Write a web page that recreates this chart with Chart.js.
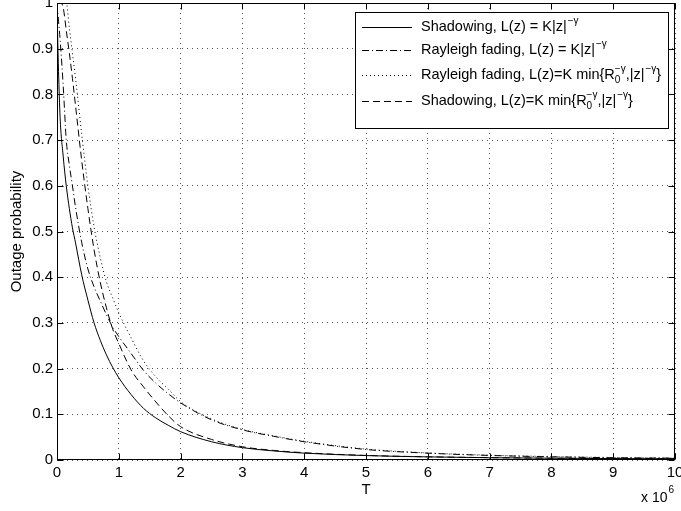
<!DOCTYPE html>
<html>
<head>
<meta charset="utf-8">
<script src="https://cdn.jsdelivr.net/npm/chart.js@4"></script>
<style>
  html, body { margin: 0; padding: 0; background: #fff; }
</style>
</head>
<body>
<canvas id="chart" width="681" height="511"></canvas>
<script>
// T values (x 10^6)
const tValues = [0, 0.01, 0.025, 0.05, 0.1, 0.15, 0.2, 0.25, 0.3, 0.4, 0.5, 0.6, 0.7, 0.8, 0.9, 1,
    1.2, 1.4, 1.6, 1.8, 2, 2.5, 3, 3.5, 4, 5, 6, 7, 8, 9, 10];

// Shadowing, L(z) = K|z|^-γ  (solid)
const shadowPower = [1, 0.93, 0.85, 0.75, 0.665, 0.6, 0.55, 0.508, 0.475, 0.405, 0.35, 0.3, 0.262, 0.23, 0.203, 0.18,
    0.143, 0.113, 0.092, 0.076, 0.062, 0.04, 0.027, 0.02, 0.015, 0.0097, 0.0068, 0.005, 0.0039, 0.0031, 0.0025];

// Rayleigh fading, L(z) = K|z|^-γ  (dash-dot)
const rayleighPower = [1, 0.985, 0.96, 0.92, 0.82, 0.7, 0.645, 0.6, 0.553, 0.476, 0.418, 0.379, 0.348, 0.318, 0.291, 0.27,
    0.233, 0.196, 0.168, 0.145, 0.125, 0.088, 0.066, 0.052, 0.04, 0.023, 0.015, 0.01, 0.007, 0.005, 0.004];

// Rayleigh fading, L(z)=K min{R0^-γ,|z|^-γ}  (dotted)
const rayleighMin = [1, 1, 1, 1, 1, 1, 0.945, 0.89, 0.835, 0.713, 0.6, 0.51, 0.443, 0.39, 0.355, 0.322,
    0.267, 0.217, 0.182, 0.155, 0.128, 0.09, 0.067, 0.053, 0.041, 0.024, 0.0155, 0.0105, 0.0075, 0.0055, 0.0042];

// Shadowing, L(z)=K min{R0^-γ,|z|^-γ}  (dashed)
const shadowMin = [1, 1, 1, 1, 0.99, 0.94, 0.89, 0.835, 0.775, 0.655, 0.55, 0.46, 0.389, 0.333, 0.287, 0.255,
    0.197, 0.16, 0.127, 0.097, 0.073, 0.045, 0.029, 0.021, 0.016, 0.01, 0.007, 0.0052, 0.004, 0.0032, 0.0026];

const xTicks = [0, 1, 2, 3, 4, 5, 6, 7, 8, 9, 10];
const xTickLabels = ['0', '1', '2', '3', '4', '5', '6', '7', '8', '9', '10'];
const yTicks = [0, 0.1, 0.2, 0.3, 0.4, 0.5, 0.6, 0.7, 0.8, 0.9, 1];
const yTickLabels = ['0', '0.1', '0.2', '0.3', '0.4', '0.5', '0.6', '0.7', '0.8', '0.9', '1'];

// legend rows: plain text + super/subscript pieces
const legendRows = [
    [{ t: 'Shadowing, L(z) = K|z|' }, { t: '\u2212\u03b3', sup: true }],
    [{ t: 'Rayleigh fading, L(z) = K|z|' }, { t: '\u2212\u03b3', sup: true }],
    [{ t: 'Rayleigh fading, L(z)=K min{R' }, { t: '0', sub: true, over: '\u2212\u03b3' }, { t: ',|z|' }, { t: '\u2212\u03b3', sup: true }, { t: '}' }],
    [{ t: 'Shadowing, L(z)=K min{R' }, { t: '0', sub: true, over: '\u2212\u03b3' }, { t: ',|z|' }, { t: '\u2212\u03b3', sup: true }, { t: '}' }]
];

const FONT = '"Liberation Sans", Arial, Helvetica, sans-serif';

function toPoints(ys) {
    return tValues.map((t, i) => ({ x: t, y: ys[i] }));
}

// MATLAB-style frame, inward ticks, legend and exponent label
const matlabPlugin = {
    id: 'matlabPlugin',
    afterDatasetsDraw(chart) {
        const { ctx, chartArea: a, scales: { x, y } } = chart;
        const L = Math.round(a.left) + 0.5, R = Math.round(a.right) - 0.5;
        const T = Math.round(a.top) + 0.5, B = Math.round(a.bottom) - 0.5;
        ctx.save();
        ctx.strokeStyle = '#000';
        ctx.lineWidth = 1;
        ctx.setLineDash([]);
        ctx.beginPath();
        x.ticks.forEach(tk => {
            const px = Math.round(x.getPixelForValue(tk.value)) + 0.5;
            ctx.moveTo(px, B); ctx.lineTo(px, B - 6);
            ctx.moveTo(px, T); ctx.lineTo(px, T + 6);
        });
        y.ticks.forEach(tk => {
            const py = Math.round(y.getPixelForValue(tk.value)) + 0.5;
            ctx.moveTo(L, py); ctx.lineTo(L + 6, py);
            ctx.moveTo(R, py); ctx.lineTo(R - 6, py);
        });
        ctx.stroke();
        ctx.strokeRect(L, T, R - L, B - T);

        // legend
        const box = { x: 355.5, y: 12.5, w: 313, h: 116 };
        ctx.fillStyle = '#fff';
        ctx.fillRect(box.x, box.y, box.w, box.h);
        ctx.strokeRect(box.x, box.y, box.w, box.h);
        const rowY = [27, 50, 75, 101];
        const order = [0, 1, 2, 3];
        ctx.textBaseline = 'middle';
        ctx.textAlign = 'left';
        order.forEach((di, r) => {
            const ds = chart.data.datasets[di];
            const yy = rowY[r] + 0.5;
            ctx.setLineDash(ds.borderDash || []);
            ctx.beginPath();
            ctx.moveTo(362, yy); ctx.lineTo(412, yy);
            ctx.stroke();
            ctx.setLineDash([]);
            let cx = 421;
            ctx.fillStyle = '#000';
            legendRows[r].forEach(seg => {
                if (seg.sup) {
                    ctx.font = '10px ' + FONT;
                    ctx.fillText(seg.t, cx + 1, rowY[r] - 6);
                    cx += ctx.measureText(seg.t).width + 1;
                } else if (seg.sub) {
                    ctx.font = '10px ' + FONT;
                    const w1 = ctx.measureText(seg.t).width;
                    const w2 = ctx.measureText(seg.over).width;
                    ctx.fillText(seg.t, cx, rowY[r] + 5);
                    ctx.fillText(seg.over, cx, rowY[r] - 6);
                    cx += Math.max(w1, w2);
                } else {
                    ctx.font = '14.5px ' + FONT;
                    ctx.fillText(seg.t, cx, rowY[r]);
                    cx += ctx.measureText(seg.t).width;
                }
            });
        });

        // exponent label under the x axis
        ctx.fillStyle = '#000';
        ctx.font = '14px ' + FONT;
        ctx.fillText('x 10', 641, 498);
        const w = ctx.measureText('x 10').width;
        ctx.font = '10px ' + FONT;
        ctx.fillText('6', 641 + w + 1, 490);
        ctx.restore();
    }
};

const gridOpts = { color: '#555', lineWidth: 1, drawTicks: false };
const borderOpts = { display: false, dash: [1, 4] };
const tickFont = { family: FONT, size: 15 };

new Chart(document.getElementById('chart'), {
    type: 'line',
    data: {
        datasets: [
            { label: 'Shadowing, L(z) = K|z|^-γ', data: toPoints(shadowPower), borderDash: [] },
            { label: 'Rayleigh fading, L(z) = K|z|^-γ', data: toPoints(rayleighPower), borderDash: [7, 3, 1, 3] },
            { label: 'Rayleigh fading, L(z)=K min{R0^-γ,|z|^-γ}', data: toPoints(rayleighMin), borderDash: [1, 3] },
            { label: 'Shadowing, L(z)=K min{R0^-γ,|z|^-γ}', data: toPoints(shadowMin), borderDash: [7, 4] }
        ]
    },
    options: {
        responsive: false,
        animation: false,
        layout: { padding: { top: 3, right: 6, left: 0, bottom: 0 } },
        elements: {
            point: { radius: 0 },
            line: { borderColor: '#000', borderWidth: 1, fill: false, cubicInterpolationMode: 'monotone' }
        },
        plugins: { legend: { display: false }, tooltip: { enabled: false } },
        scales: {
            x: {
                type: 'linear', min: 0, max: 10,
                afterBuildTicks: s => { s.ticks = xTicks.map(v => ({ value: v })); },
                afterFit: s => { s.height = 51; s.paddingLeft = 0; s.paddingRight = 0; },
                ticks: { callback: (v, i) => xTickLabels[i], font: tickFont, color: '#000', padding: 4, maxRotation: 0, autoSkip: false },
                grid: gridOpts,
                border: borderOpts,
                title: { display: true, text: 'T', font: { family: FONT, size: 15 }, color: '#000', padding: { top: 0, bottom: 12 } }
            },
            y: {
                type: 'linear', min: 0, max: 1,
                afterBuildTicks: s => { s.ticks = yTicks.map(v => ({ value: v })); },
                afterFit: s => { s.width = 57; s.paddingTop = 0; s.paddingBottom = 0; },
                ticks: { callback: (v, i) => yTickLabels[i], font: tickFont, color: '#000', padding: 4, autoSkip: false },
                grid: gridOpts,
                border: borderOpts,
                title: { display: true, text: 'Outage probability', font: { family: FONT, size: 15 }, color: '#000', padding: { top: 8, bottom: 0 } }
            }
        }
    },
    plugins: [matlabPlugin]
});
</script>
</body>
</html>
